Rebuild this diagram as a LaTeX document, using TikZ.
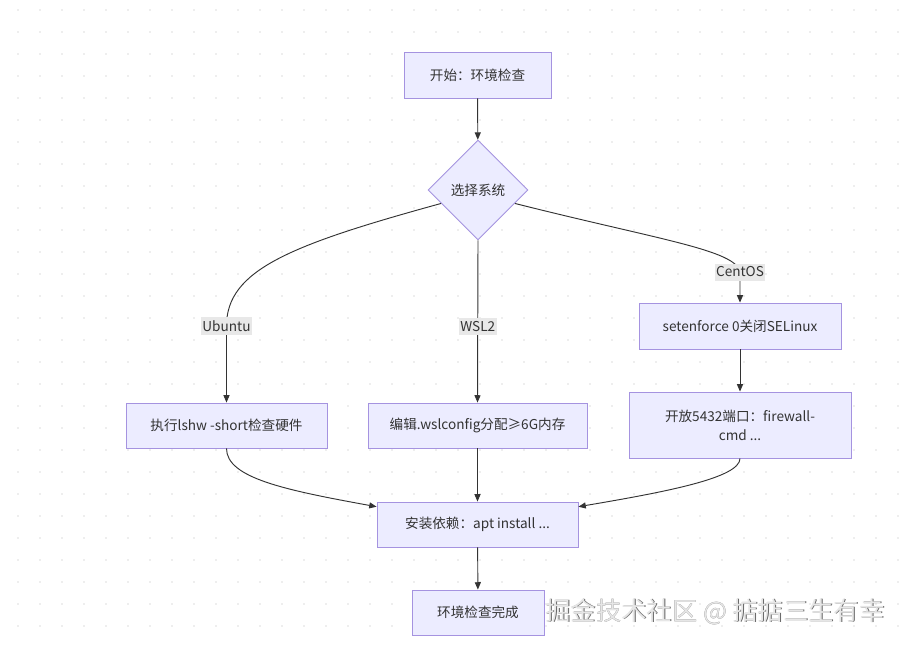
\documentclass[tikz,border=0pt]{standalone}
\usepackage{fontspec}
\setmainfont{Noto Sans CJK SC}
\usetikzlibrary{shapes.geometric,arrows.meta}
\definecolor{boxfill}{HTML}{ECECFF}
\definecolor{boxline}{HTML}{A593E0}
\definecolor{edgeline}{HTML}{333333}
\definecolor{lblfill}{HTML}{E8E8E8}
\definecolor{dotgray}{HTML}{DDDDDD}
\definecolor{markfill}{HTML}{E6E6E6}
\begin{document}
\begin{tikzpicture}[x=0.75pt,y=-0.75pt,
	box/.style={draw=boxline,fill=boxfill,line width=0.65pt,inner sep=0pt,text=edgeline,align=center,font=\fontsize{10.2pt}{14.25pt}\selectfont},
	choice/.style={box,diamond,minimum width=75pt,minimum height=75pt},
	flow/.style={draw=edgeline,line width=0.7pt,-{Triangle[length=5.5pt,width=4.5pt]}},
	lbl/.style={fill=lblfill,text=edgeline,inner xsep=1pt,inner ysep=2.5pt,font=\fontsize{10.2pt}{12pt}\selectfont}]
			\useasboundingbox (0,0) rectangle (902,644);
			\fill[white] (0,0) rectangle (902,644);
			% dotted grid
			\foreach \i in {0,...,40}
				\foreach \j in {0,...,29}
					\fill[dotgray] (18+22*\i,10+22*\j) circle (0.7pt);
			% nodes
			\node[box,minimum width=110.25pt,minimum height=34.5pt] (start) at (477.5,75) {开始：环境检查};
			\node[choice] (dia) at (478,190) {选择系统};
			\node[box,minimum width=150.75pt,minimum height=33.75pt] (ubu) at (226.5,425.5) {执行lshw -short检查硬件};
			\node[box,minimum width=164.25pt,minimum height=33.75pt] (wsl) at (477.5,425.5) {编辑.wslconfig分配≥6G内存};
			\node[box,minimum width=151.5pt,minimum height=34.5pt] (sel) at (740,326) {setenforce 0关闭SELinux};
			\node[box,minimum width=166.5pt,minimum height=49.5pt] (fw) at (740,425) {开放5432端口：firewall-\\cmd ...};
			\node[box,minimum width=150.75pt,minimum height=33.75pt] (inst) at (477.5,524.5) {安装依赖：apt install ...};
			\node[box,minimum width=99pt,minimum height=33.75pt] (done) at (478,612.5) {环境检查完成};
			% connectors
			\draw[flow] (start) -- (dia);
			\draw[flow] (dia.200) .. controls (290,245) and (226.5,270) .. (226.5,326) node[lbl] {Ubuntu} -- (ubu.north);
			\draw[flow] (dia.south) -- node[lbl,pos=0.53] {WSL2} (wsl.north);
			\draw[flow] (dia.340) .. controls (660,240) and (736,250) .. (740,272) node[lbl] {CentOS} -- (sel.north);
			\draw[flow] (sel) -- (fw);
			\draw[flow] (ubu.south) .. controls (226.5,478) and (285,490) .. (inst.170);
			\draw[flow] (wsl) -- (inst);
			\draw[flow] (fw.south) .. controls (740,478) and (665,492) .. (inst.10);
			\draw[flow] (inst) -- (done);
			% watermark
			\node[text=black!60,font=\fontsize{19pt}{22pt}\selectfont] (markshade) at (715.8,612.3) {掘金技术社区 @ 掂掂三生有幸};
			\node[text=markfill,font=\fontsize{19pt}{22pt}\selectfont] (mark) at (715,611.5) {掘金技术社区 @ 掂掂三生有幸};
		\end{tikzpicture}
\end{document}
